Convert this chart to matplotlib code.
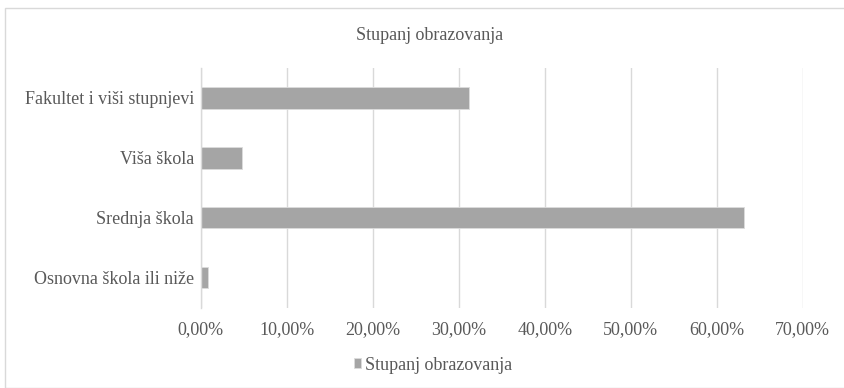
import matplotlib.pyplot as plt
from matplotlib.patches import Rectangle
from matplotlib.ticker import FuncFormatter

categories = ["Osnovna škola ili niže", "Srednja škola", "Viša škola", "Fakultet i viši stupnjevi"]
shares = [0.008, 0.632, 0.048, 0.312]
xticks = [0.0, 0.1, 0.2, 0.3, 0.4, 0.5, 0.6, 0.7]
series_name = "Stupanj obrazovanja"
title = "Stupanj obrazovanja"

text_col = "#595959"
grid_col = "#d9d9d9"
bar_col = "#a5a5a5"
fs = 13

plt.rcParams["font.family"] = ["Liberation Serif", "DejaVu Serif"]

W, H = 845, 388
fig = plt.figure(figsize=(W / 100, H / 100), dpi=100)

# chart border, right and bottom edges run off the canvas
fig.patches.append(Rectangle((5 / W, 0), 2, 1 - 8 / H, transform=fig.transFigure,
                             fill=False, edgecolor=grid_col, lw=1.0))

ax = fig.add_axes([200.7 / W, 1 - 307.5 / H, 602 / W, 239.5 / H])
ypos = range(len(categories))
bars = ax.barh(ypos, shares, height=0.36, color=bar_col, edgecolor="#dcdcdc",
               lw=0.6, label=series_name, zorder=3)

ax.set_xlim(0, 0.7)
ax.set_ylim(-0.5, len(categories) - 0.5)
ax.set_xticks(xticks)
ax.xaxis.set_major_formatter(FuncFormatter(lambda v, p: f"{v * 100:.2f}%".replace(".", ",")))
ax.set_yticks(list(ypos))
ax.set_yticklabels(categories)

ax.grid(axis="x", color=grid_col, lw=1.0, zorder=0)
for s in ["top", "right", "bottom"]:
    ax.spines[s].set_visible(False)
ax.spines["left"].set_color(grid_col)
ax.spines["left"].set_linewidth(1.0)
ax.spines["left"].set_zorder(4)
ax.tick_params(axis="both", length=0, colors=text_col, labelsize=fs)
ax.tick_params(axis="x", pad=10)
ax.tick_params(axis="y", pad=5)

fig.text(430 / W, 1 - 36 / H, title, ha="center", va="center", color=text_col, fontsize=fs)

fig.legend(handles=[bars], labels=[series_name], loc="center",
           bbox_to_anchor=(433 / W, 1 - 365 / H), frameon=False, fontsize=fs,
           labelcolor=text_col, handlelength=0.4, handleheight=0.4, handletextpad=0.22)

fig.savefig("out.png", dpi=100)
